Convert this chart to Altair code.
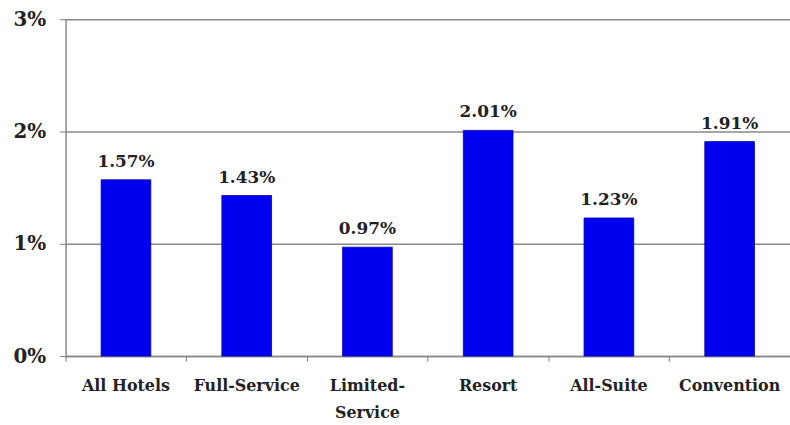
import altair as alt
import pandas as pd

categories = ["All Hotels", "Full-Service", "Limited-Service", "Resort", "All-Suite", "Convention"]
values = [1.57, 1.43, 0.97, 2.01, 1.23, 1.91]
y_ticks = [0, 1, 2, 3]

df = pd.DataFrame({"cat": categories, "val": values})
df["lbl"] = [f"{v:.2f}%" for v in values]

FONT = "DejaVu Serif"

x = alt.X(
    "cat:N", sort=categories, title=None,
    scale=alt.Scale(paddingInner=0, paddingOuter=0),
    axis=alt.Axis(
        labelAngle=0, labelFont=FONT, labelFontSize=16, labelFontWeight="bold",
        labelColor="#222", labelPadding=17, bandPosition=0, tickSize=5,
        tickColor="#777", domainColor="#888", domainWidth=1.5,
        labelExpr="datum.label == 'Limited-Service' ? ['Limited-', 'Service'] : datum.label",
        labelLineHeight=27, labelBaseline="top",
    ),
)
y = alt.Y(
    "val:Q", title=None,
    scale=alt.Scale(domain=[0, 3], nice=False),
    axis=alt.Axis(
        values=y_ticks, labelExpr="datum.value + '%'", labelFont=FONT,
        labelFontSize=20, labelFontWeight="bold", labelColor="#222",
        labelPadding=14, tickSize=6, tickColor="#777", domainColor="#888",
        domainWidth=1.5, gridColor="#888", gridWidth=1.5, gridOpacity=1,
    ),
)

bars = alt.Chart(df).mark_bar(size=50, color="#0000F0", stroke="#0000B0", strokeWidth=0.8).encode(x=x, y=y)
text = alt.Chart(df).mark_text(
    font=FONT, fontSize=17, fontWeight="bold", color="#222", dy=-18
).encode(x=alt.X("cat:N", sort=categories), y="val:Q", text="lbl:N")

chart = (bars + text).properties(
    width=729, height=339,
    padding={"left": 66, "top": 18, "right": 0, "bottom": 68},
    autosize=alt.AutoSizeParams(type="none"),
).configure_view(stroke=None).configure_axisX(grid=False)

chart.save("out.html", embed_options={"renderer": "svg", "actions": False})
